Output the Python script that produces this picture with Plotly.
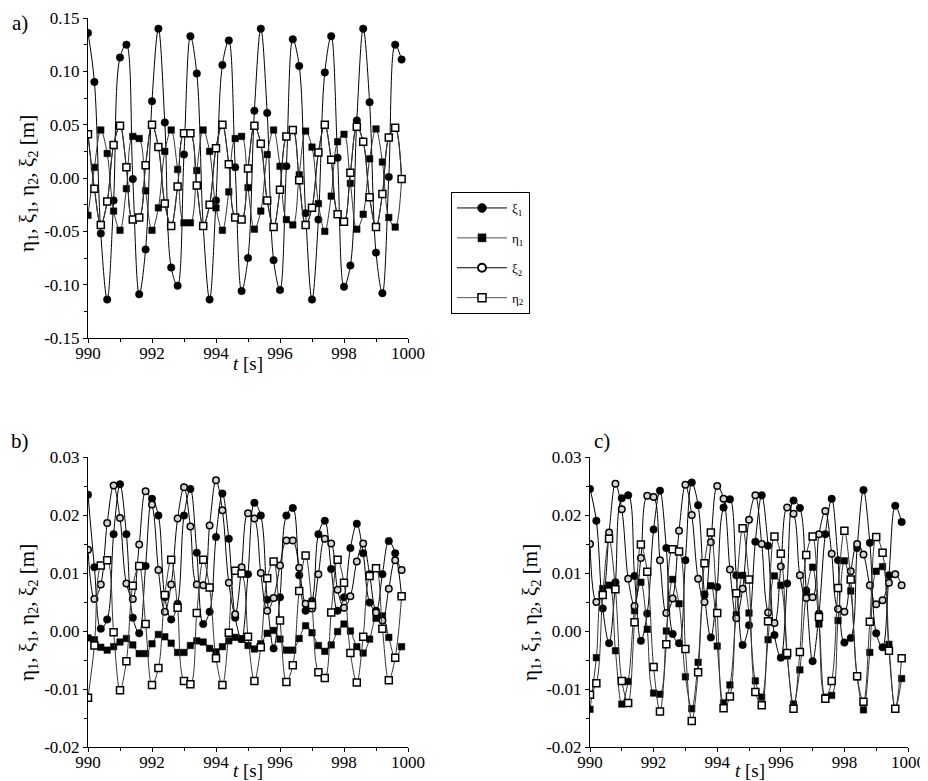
import plotly.graph_objects as go

# ---------------- data ----------------
t = [990.0, 990.2, 990.4, 990.6, 990.8, 991.0, 991.2, 991.4, 991.6, 991.8,
     992.0, 992.2, 992.4, 992.6, 992.8, 993.0, 993.2, 993.4, 993.6, 993.8,
     994.0, 994.2, 994.4, 994.6, 994.8, 995.0, 995.2, 995.4, 995.6, 995.8,
     996.0, 996.2, 996.4, 996.6, 996.8, 997.0, 997.2, 997.4, 997.6, 997.8,
     998.0, 998.2, 998.4, 998.6, 998.8, 999.0, 999.2, 999.4, 999.6, 999.8]

# panel a)
xi1_a = [0.136, 0.090, -0.052, -0.114, -0.021, 0.113, 0.125, -0.001, -0.109, -0.067,
         0.072, 0.140, 0.052, -0.084, -0.101, 0.022, 0.133, 0.098, -0.045, -0.114,
         -0.021, 0.106, 0.129, 0.010, -0.106, -0.075, 0.063, 0.140, 0.061, -0.077,
         -0.105, 0.011, 0.130, 0.105, -0.033, -0.114, -0.039, 0.099, 0.133, 0.019,
         -0.102, -0.082, 0.054, 0.140, 0.071, -0.070, -0.108, 0.001, 0.125, 0.111]
eta1_a = [-0.035, 0.010, 0.045, 0.023, -0.031, -0.049, -0.010, 0.039, 0.037, -0.012,
          -0.049, -0.028, 0.025, 0.045, 0.008, -0.042, -0.042, 0.007, 0.045, 0.025,
          -0.028, -0.049, -0.013, 0.037, 0.039, -0.009, -0.048, -0.031, 0.022, 0.045,
          0.011, -0.039, -0.044, 0.003, 0.044, 0.029, -0.024, -0.050, -0.017, 0.034,
          0.041, -0.005, -0.048, -0.034, 0.018, 0.046, 0.015, -0.037, -0.046, -0.001]
xi2_a = [0.041, -0.010, -0.044, -0.022, 0.031, 0.049, 0.010, -0.039, -0.037, 0.012,
         0.050, 0.029, -0.024, -0.045, -0.008, 0.042, 0.042, -0.007, -0.045, -0.025,
         0.028, 0.050, 0.013, -0.037, -0.039, 0.009, 0.049, 0.032, -0.021, -0.046,
         -0.011, 0.039, 0.045, -0.002, -0.044, -0.028, 0.024, 0.050, 0.017, -0.034,
         -0.041, 0.005, 0.048, 0.034, -0.018, -0.046, -0.015, 0.038, 0.047, -0.001]
eta2_a = [0.041, -0.010, -0.044, -0.022, 0.031, 0.049, 0.010, -0.039, -0.037, 0.012,
          0.050, 0.029, -0.024, -0.045, -0.008, 0.042, 0.042, -0.007, -0.045, -0.025,
          0.028, 0.050, 0.013, -0.037, -0.039, 0.009, 0.049, 0.032, -0.021, -0.046,
          -0.011, 0.039, 0.045, -0.002, -0.044, -0.028, 0.024, 0.050, 0.017, -0.034,
          -0.041, 0.005, 0.048, 0.034, -0.018, -0.046, -0.015, 0.038, 0.047, -0.001]

# panel b)
xi1_b = [0.0235, 0.0110, 0.0004, 0.0020, 0.0167, 0.0253, 0.0167, 0.0023, -0.0004, 0.0112,
         0.0228, 0.0199, 0.0058, 0.0020, 0.0047, 0.0199, 0.0245, 0.0135, 0.0012, 0.0033,
         0.0162, 0.0237, 0.0159, 0.0023, -0.0014, 0.0098, 0.0221, 0.0199, 0.0054, -0.0030,
         0.0058, 0.0199, 0.0212, 0.0096, 0.0035, 0.0052, 0.0167, 0.0190, 0.0107, 0.0035,
         0.0058, 0.0143, 0.0185, 0.0134, 0.0049, 0.0035, 0.0098, 0.0155, 0.0134, 0.0060]
eta1_b = [-0.0012, -0.0015, -0.0028, -0.0033, -0.0027, -0.0019, -0.0013, -0.0024, -0.0039, -0.0039,
          -0.0022, -0.0006, -0.0010, -0.0021, -0.0037, -0.0037, -0.0025, -0.0017, -0.0019, -0.0030,
          -0.0036, -0.0027, -0.0017, -0.0011, -0.0014, -0.0025, -0.0031, -0.0022, -0.0004, 0.0001,
          -0.0014, -0.0033, -0.0033, -0.0013, 0.0009, -0.0003, -0.0025, -0.0035, -0.0024, -0.0001,
          0.0012, 0.0000, -0.0027, -0.0038, -0.0014, 0.0022, 0.0026, -0.0011, -0.0046, -0.0027]
xi2_b = [0.0140, 0.0055, 0.0080, 0.0186, 0.0251, 0.0195, 0.0082, 0.0055, 0.0149, 0.0241,
         0.0218, 0.0105, 0.0033, 0.0080, 0.0194, 0.0248, 0.0180, 0.0080, 0.0079, 0.0182,
         0.0260, 0.0208, 0.0083, 0.0029, 0.0110, 0.0203, 0.0194, 0.0100, 0.0035, 0.0057,
         0.0113, 0.0156, 0.0156, 0.0109, 0.0047, 0.0039, 0.0098, 0.0159, 0.0151, 0.0071,
         0.0040, 0.0060, 0.0120, 0.0151, 0.0098, 0.0032, 0.0018, 0.0073, 0.0122, 0.0105]
eta2_b = [-0.0115, -0.0025, 0.0113, 0.0122, -0.0002, -0.0102, -0.0052, 0.0078, 0.0112, 0.0012,
          -0.0093, -0.0064, 0.0062, 0.0123, 0.0040, -0.0086, -0.0092, 0.0031, 0.0123, 0.0075,
          -0.0047, -0.0093, -0.0003, 0.0104, 0.0099, -0.0010, -0.0086, -0.0028, 0.0091, 0.0120,
          0.0018, -0.0088, -0.0059, 0.0069, 0.0130, 0.0045, -0.0071, -0.0081, 0.0032, 0.0123,
          0.0083, -0.0038, -0.0089, -0.0010, 0.0095, 0.0108, 0.0004, -0.0085, -0.0046, 0.0060]

# panel c)
xi1_c = [0.0245, 0.0190, 0.0039, -0.0021, 0.0084, 0.0229, 0.0234, 0.0095, -0.0017, 0.0030,
         0.0175, 0.0242, 0.0143, -0.0005, -0.0021, 0.0122, 0.0256, 0.0217, 0.0063, -0.0011,
         0.0076, 0.0213, 0.0227, 0.0096, -0.0024, 0.0010, 0.0154, 0.0234, 0.0147, -0.0007,
         -0.0046, 0.0082, 0.0225, 0.0212, 0.0070, -0.0052, 0.0030, 0.0167, 0.0228, 0.0122,
         -0.0020, -0.0012, 0.0143, 0.0243, 0.0152, -0.0004, -0.0028, 0.0096, 0.0216, 0.0188]
eta1_c = [-0.0135, -0.0046, 0.0073, 0.0079, -0.0034, -0.0126, -0.0087, 0.0035, 0.0084, 0.0003,
          -0.0107, -0.0109, 0.0000, 0.0089, 0.0047, -0.0079, -0.0134, -0.0054, 0.0063, 0.0078,
          -0.0026, -0.0124, -0.0093, 0.0028, 0.0096, 0.0031, -0.0086, -0.0114, -0.0015, 0.0095,
          0.0079, -0.0043, -0.0126, -0.0067, 0.0063, 0.0110, 0.0012, -0.0114, -0.0111, 0.0018,
          0.0121, 0.0069, -0.0079, -0.0136, -0.0037, 0.0103, 0.0111, -0.0023, -0.0134, -0.0082]
xi2_c = [0.0150, 0.0050, 0.0063, 0.0170, 0.0254, 0.0210, 0.0090, 0.0043, 0.0126, 0.0233,
         0.0231, 0.0122, 0.0031, 0.0056, 0.0173, 0.0252, 0.0200, 0.0090, 0.0050, 0.0153,
         0.0250, 0.0228, 0.0106, 0.0022, 0.0073, 0.0192, 0.0234, 0.0150, 0.0032, 0.0014,
         0.0111, 0.0213, 0.0202, 0.0096, 0.0057, 0.0058, 0.0167, 0.0207, 0.0133, 0.0038,
         0.0033, 0.0103, 0.0150, 0.0132, 0.0079, 0.0046, 0.0053, 0.0083, 0.0098, 0.0079]
eta2_c = [-0.0110, -0.0090, 0.0062, 0.0159, 0.0072, -0.0086, -0.0124, 0.0015, 0.0149, 0.0102,
          -0.0062, -0.0139, -0.0023, 0.0141, 0.0137, -0.0031, -0.0155, -0.0071, 0.0117, 0.0170,
          0.0031, -0.0133, -0.0113, 0.0065, 0.0177, 0.0089, -0.0105, -0.0128, 0.0017, 0.0163,
          0.0133, -0.0038, -0.0134, -0.0036, 0.0131, 0.0163, 0.0024, -0.0117, -0.0086, 0.0074,
          0.0173, 0.0089, -0.0078, -0.0122, 0.0016, 0.0162, 0.0135, -0.0034, -0.0134, -0.0047]

# ticks
x_tickvals = [990, 992, 994, 996, 998, 1000]
x_ticktext = ["990", "992", "994", "996", "998", "1000"]
x_minor = [991, 993, 995, 997, 999]
ya_tickvals = [-0.15, -0.10, -0.05, 0.0, 0.05, 0.10, 0.15]
ya_ticktext = ["-0.15", "-0.10", "-0.05", "0.00", "0.05", "0.10", "0.15"]
ya_minor = [-0.125, -0.075, -0.025, 0.025, 0.075, 0.125]
ybc_tickvals = [-0.02, -0.01, 0.0, 0.01, 0.02, 0.03]
ybc_ticktext = ["-0.02", "-0.01", "0.00", "0.01", "0.02", "0.03"]
ybc_minor = [-0.015, -0.005, 0.005, 0.015, 0.025]

names = ["ξ<sub>1</sub>", "η<sub>1</sub>", "ξ<sub>2</sub>", "η<sub>2</sub>"]

# ---------------- styling ----------------
FONT = "Liberation Serif, Times New Roman, serif"
W, H = 928, 781

def px_x(p):
    return p / W

def px_y(p):
    return 1 - p / H

mk_xi1 = dict(symbol="circle", size=7.5, color="black", line=dict(color="black", width=0.5))
mk_eta1 = dict(symbol="square", size=6.5, color="black", line=dict(color="black", width=0.5))
mk_xi2 = dict(symbol="circle", size=6.5, color="#d4d4d4", line=dict(color="black", width=1.5))
mk_eta2 = dict(symbol="square", size=7, color="white", line=dict(color="black", width=1.5))
mk_xi2_a = dict(symbol="circle", size=3.5, color="white", line=dict(color="#555555", width=1))
mk_leg_xi2 = dict(symbol="circle", size=8, color="white", line=dict(color="black", width=2))
mk_leg_eta2 = dict(symbol="square", size=8, color="white", line=dict(color="black", width=1.5))
mk_leg_xi1 = dict(symbol="circle", size=9, color="black", line=dict(color="black", width=0.5))
mk_leg_eta1 = dict(symbol="square", size=8, color="black", line=dict(color="black", width=0.5))
line_cols = ["black", "#333333", "black", "#333333"]

fig = go.Figure()

panels = [
    ("x", "y", [xi1_a, eta1_a, xi2_a, eta2_a], [mk_xi1, mk_eta1, mk_xi2_a, mk_eta2]),
    ("x2", "y2", [xi1_b, eta1_b, xi2_b, eta2_b], [mk_xi1, mk_eta1, mk_xi2, mk_eta2]),
    ("x3", "y3", [xi1_c, eta1_c, xi2_c, eta2_c], [mk_xi1, mk_eta1, mk_xi2, mk_eta2]),
]
for xa, ya, sers, mks in panels:
    for k, (nm, ys) in enumerate(zip(names, sers)):
        fig.add_trace(go.Scatter(
            x=t, y=ys, xaxis=xa, yaxis=ya, name=nm,
            mode="lines+markers",
            line=dict(color=line_cols[k], width=1, shape="spline", smoothing=1.0),
            marker=mks[k], showlegend=False,
        ))

# legend entries
for k, (nm, mk) in enumerate(zip(names, [mk_leg_xi1, mk_leg_eta1, mk_leg_xi2, mk_leg_eta2])):
    fig.add_trace(go.Scatter(
        x=[None], y=[None], xaxis="x", yaxis="y", name=nm, mode="lines+markers",
        line=dict(color=["black", "#555555", "black", "#555555"][k], width=1), marker=mk,
        showlegend=True, legendgroup="g%d" % k,
    ))

# axes
def axis(domain, rng, anchor, tv, tt, minor, standoff=0):
    return dict(domain=domain, range=rng, anchor=anchor, tickvals=tv, ticktext=tt,
                minor=dict(tickvals=minor, ticks="outside", ticklen=3, tickcolor="black",
                           tickwidth=1),
                showline=True, linecolor="black", linewidth=1, ticks="outside",
                ticklen=4, tickwidth=1, tickcolor="black", showgrid=False, zeroline=False,
                mirror=False, automargin=False, ticklabelstandoff=standoff,
                tickfont=dict(family=FONT, size=17, color="black"))

a_x = [80, 400]; a_y = [10, 330]
b_x = [80, 400]; bc_y = [449, 739]
c_x = [582, 900]

fig.update_layout(
    width=W, height=H, margin=dict(l=0, r=0, t=0, b=0, pad=0),
    paper_bgcolor="white", plot_bgcolor="white",
    font=dict(family=FONT, size=15, color="black"),
    xaxis=axis([px_x(a_x[0]), px_x(a_x[1])], [990, 1000], "y", x_tickvals, x_ticktext, x_minor, -4),
    yaxis=axis([px_y(a_y[1]), px_y(a_y[0])], [-0.15, 0.15], "x", ya_tickvals, ya_ticktext, ya_minor),
    xaxis2=axis([px_x(b_x[0]), px_x(b_x[1])], [990, 1000], "y2", x_tickvals, x_ticktext, x_minor, -4),
    yaxis2=axis([px_y(bc_y[1]), px_y(bc_y[0])], [-0.02, 0.03], "x2", ybc_tickvals, ybc_ticktext, ybc_minor),
    xaxis3=axis([px_x(c_x[0]), px_x(c_x[1])], [990, 1000], "y3", x_tickvals, x_ticktext, x_minor, -4),
    yaxis3=axis([px_y(bc_y[1]), px_y(bc_y[0])], [-0.02, 0.03], "x3", ybc_tickvals, ybc_ticktext, ybc_minor),
    legend=dict(x=px_x(443), y=px_y(184), xanchor="left", yanchor="top",
                bordercolor="black", borderwidth=1, bgcolor="white",
                font=dict(family=FONT, size=13, color="black"),
                itemwidth=50, tracegroupgap=10, traceorder="grouped"),
    showlegend=True,
)

ytitle = "η<sub>1</sub>, ξ<sub>1</sub>, η<sub>2</sub>, ξ<sub>2</sub> [m]"
ann = []
for (lx, ly, txt) in [(12, 1, "a)"), (12, 419, "b)"), (594, 419, "c)")]:
    ann.append(dict(x=px_x(lx), y=px_y(ly), xref="paper", yref="paper", text=txt,
                    showarrow=False, xanchor="center", yanchor="top",
                    font=dict(family=FONT, size=21, color="black")))
for (lx, ly) in [(20, 176), (20, 605), (523, 605)]:
    ann.append(dict(x=px_x(lx), y=px_y(ly), xref="paper", yref="paper", text=ytitle,
                    textangle=-90, showarrow=False, xanchor="center", yanchor="middle",
                    font=dict(family=FONT, size=21, color="black")))
for (lx, ly) in [(240, 355), (240, 762), (742, 762)]:
    ann.append(dict(x=px_x(lx), y=px_y(ly), xref="paper", yref="paper",
                    text="<i>t</i> [s]", showarrow=False, xanchor="center", yanchor="middle",
                    font=dict(family=FONT, size=19, color="black")))
fig.update_layout(annotations=ann)

fig.write_html("out.html")
